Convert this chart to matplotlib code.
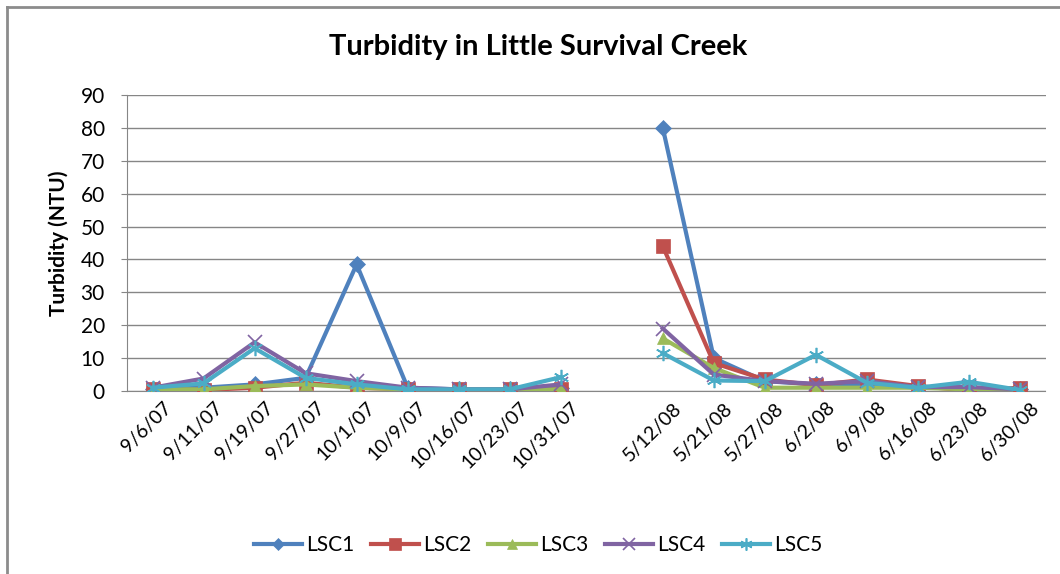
import numpy as np
import matplotlib.pyplot as plt
import matplotlib.transforms as mtransforms
from matplotlib.lines import Line2D

plt.rcParams['font.family'] = ['Lato', 'DejaVu Sans']

categories = ['9/6/07', '9/11/07', '9/19/07', '9/27/07', '10/1/07', '10/9/07',
              '10/16/07', '10/23/07', '10/31/07', '',
              '5/12/08', '5/21/08', '5/27/08', '6/2/08', '6/9/08', '6/16/08',
              '6/23/08', '6/30/08']
nan = np.nan
lsc1 = [0.5, 1.0, 2.0, 4.0, 38.5, 1.0, 0.5, 0.5, 1.0, nan, 80.0, 10.0, 3.0, 2.0, 2.0, 1.0, 1.0, 0.5]
lsc2 = [0.5, 0.3, 1.0, 2.5, 1.0, 0.5, 0.5, 0.5, 0.5, nan, 44.0, 8.5, 3.5, 1.8, 3.5, 1.5, 0.1, 1.0]
lsc3 = [0.5, 0.5, 1.5, 2.0, 1.0, 0.5, 0.5, 0.5, 0.5, nan, 16.0, 7.0, 1.0, 1.0, 1.0, 1.0, 0.5, 0.3]
lsc4 = [1.0, 3.8, 14.8, 5.4, 3.0, 1.0, 0.5, 0.5, 2.0, nan, 19.0, 5.0, 3.0, 2.2, 3.0, 1.2, 1.2, 0.5]
lsc5 = [1.0, 2.3, 13.0, 4.0, 2.0, 0.5, 0.5, 0.5, 4.2, nan, 11.5, 3.2, 3.0, 11.0, 2.5, 1.0, 2.8, 0.3]

series_names = ['LSC1', 'LSC2', 'LSC3', 'LSC4', 'LSC5']
series_values = [lsc1, lsc2, lsc3, lsc4, lsc5]
colors = ['#4F81BD', '#C0504D', '#9BBB59', '#8064A2', '#4BACC6']
markers = ['D', 's', '^', 'x', (6, 2, 0)]
msizes = [8, 10, 9, 10, 11]

fig = plt.figure(figsize=(10.6, 5.74), dpi=100)
ax = fig.add_axes([127 / 1060, 1 - 391 / 574, (1045.5 - 127) / 1060, (391 - 95) / 574])

x = np.arange(len(categories))
for name, vals, c, m, ms in zip(series_names, series_values, colors, markers, msizes):
    ax.plot(x, vals, color=c, lw=3.0, marker=m, markersize=ms,
            markeredgewidth=1.2 if m in ('x', (6, 2, 0)) else 0.5,
            markeredgecolor=c, markerfacecolor=c, label=name, zorder=3)

ax.set_xlim(-0.5, len(categories) - 0.5)
ax.set_ylim(0, 90)
ax.set_yticks(np.arange(0, 91, 10))
ax.yaxis.grid(True, color='#868686', lw=1.0)
ax.set_axisbelow(True)
for s in ['top', 'right']:
    ax.spines[s].set_visible(False)
ax.spines['left'].set_color('#868686')
ax.spines['bottom'].set_color('#868686')
ax.tick_params(axis='y', length=4, color='#868686', labelsize=15, pad=12)
ax.tick_params(axis='x', length=0, labelsize=14, pad=6)
ax.set_xticks(x)
ax.set_xticklabels(categories, rotation=45, ha='right', rotation_mode='anchor')
for lab in ax.get_xticklabels():
    lab.set_transform(lab.get_transform() + mtransforms.ScaledTranslation(10 / 100, 0, fig.dpi_scale_trans))

ax.set_ylabel('Turbidity (NTU)', fontsize=15, fontweight='bold', labelpad=8)
fig.text(538 / 1060, 1 - 47 / 574, 'Turbidity in Little Survival Creek', ha='center', va='center',
         fontsize=21, fontweight='bold')

handles = [Line2D([], [], color=c, lw=3.0, marker=m, markersize=ms * 0.8, markeredgecolor=c,
                  markeredgewidth=1.2 if m in ('x', (6, 2, 0)) else 0.5)
           for c, m, ms in zip(colors, markers, msizes)]
fig.legend(handles, series_names, loc='center', bbox_to_anchor=(538 / 1060, 1 - 545 / 574), ncol=5,
           frameon=False, fontsize=15, handlelength=2.3, columnspacing=0.8, handletextpad=0.2)

# outer chart border (left and top visible)
fig.add_artist(Line2D([7 / 1060, 7 / 1060], [0, 1 - 7 / 574], transform=fig.transFigure, color='#8c8c8c', lw=2))
fig.add_artist(Line2D([7 / 1060, 1], [1 - 7 / 574, 1 - 7 / 574], transform=fig.transFigure, color='#8c8c8c', lw=2))

fig.savefig('out.png', dpi=100)
